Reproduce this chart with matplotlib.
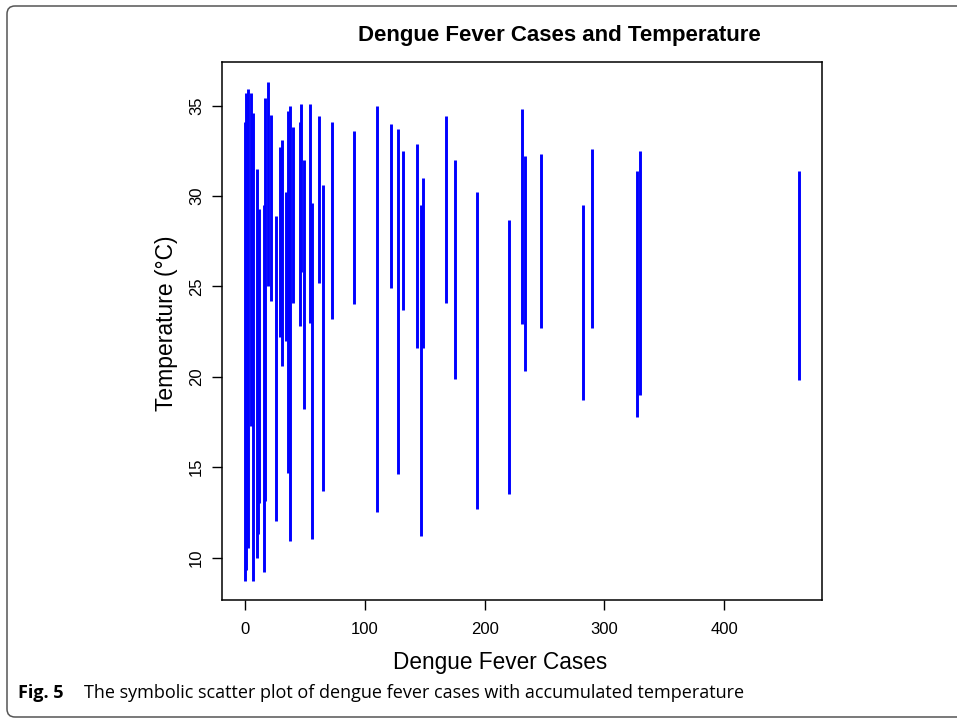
import matplotlib
matplotlib.use("Agg")
import matplotlib.pyplot as plt
from matplotlib.path import Path
from matplotlib.patches import PathPatch
from matplotlib.transforms import IdentityTransform

# interval data: monthly dengue cases with min/max temperature
cases = [0, 1, 3, 5, 7, 10, 11, 12, 16, 17, 19, 22, 26, 29, 31, 34, 36, 38,
         40, 46, 47, 49, 54, 56, 62, 65, 73, 91, 110, 122, 128, 132, 144,
         147, 149, 168, 175, 194, 220, 231, 234, 247, 282, 290, 327, 330, 462]
temp_min = [8.7, 9.3, 10.5, 17.3, 8.7, 10.0, 11.3, 13.0, 9.2, 13.1, 25.0,
            24.2, 12.0, 22.2, 20.6, 22.0, 14.65, 10.9, 24.1, 22.8, 25.8, 18.2,
            23.0, 11.0, 25.2, 13.7, 23.2, 24.0, 12.5, 24.9, 14.6, 23.7, 21.6,
            11.2, 21.6, 24.1, 19.9, 12.7, 13.5, 22.9, 20.3, 22.7, 18.7, 22.7,
            17.8, 19.0, 19.8]
temp_max = [34.1, 35.7, 35.9, 35.7, 34.6, 31.5, 25.5, 29.3, 29.5, 35.4, 36.3,
            34.5, 28.9, 32.7, 33.1, 30.2, 34.7, 35.0, 33.8, 34.1, 35.1, 32.0,
            35.1, 29.6, 34.4, 30.6, 34.1, 33.6, 35.0, 34.0, 33.7, 32.5, 32.9,
            29.5, 31.0, 34.4, 32.0, 30.2, 28.7, 34.8, 32.2, 32.3, 29.5, 32.6,
            31.4, 32.5, 31.4]

x_ticks = [0, 100, 200, 300, 400]
y_ticks = [10, 15, 20, 25, 30, 35]

plt.rcParams["font.family"] = ["Liberation Sans", "DejaVu Sans"]

W, H = 957, 719
fig = plt.figure(figsize=(W / 100, H / 100), dpi=100)

# page frame, open on the right, rounded corners on the left (pixel coords)
def px(x, y):
    return (x, H - y)

verts = [px(960, 6), px(15, 6), px(7, 6), px(7, 14), px(7, 709),
         px(7, 717), px(15, 717), px(960, 717)]
codes = [Path.MOVETO, Path.LINETO, Path.CURVE3, Path.CURVE3, Path.LINETO,
         Path.CURVE3, Path.CURVE3, Path.LINETO]
frame = PathPatch(Path(verts, codes), transform=IdentityTransform(),
                  fill=False, edgecolor="#555555", linewidth=1.1)
fig.patches.append(frame)

ax = fig.add_axes([222 / W, 1 - 600 / H, 600 / W, (600 - 61.7) / H])
ax.vlines(cases, temp_min, temp_max, colors="#0000ff", linewidth=2.1)

ax.set_xlim(-19.1, 481.5)
ax.set_ylim(7.65, 37.43)
ax.set_xticks(x_ticks)
ax.set_yticks(y_ticks)
ax.set_yticklabels([str(v) for v in y_ticks], rotation=90, va="center")
ax.tick_params(direction="out", length=7, width=1, labelsize=12,
               colors="black")
ax.tick_params(axis="x", pad=9)
ax.tick_params(axis="y", pad=6)
for spine in ax.spines.values():
    spine.set_linewidth(1.1)

fig.text(559 / W, 1 - 35 / H, "Dengue Fever Cases and Temperature",
         ha="center", va="center", fontsize=16, fontweight="bold")
fig.text(500 / W, 1 - 662 / H, "Dengue Fever Cases",
         ha="center", va="center", fontsize=16.3)
fig.text(166 / W, 1 - 323 / H, "Temperature (\u00b0C)",
         ha="center", va="center", fontsize=16.5, rotation=90)

# figure caption
cap_font = ["Open Sans", "DejaVu Sans"]
fig.text(18 / W, 1 - 693 / H, "Fig. 5", ha="left", va="center",
         fontsize=13, fontweight="bold", family=cap_font)
fig.text(84 / W, 1 - 693 / H,
         "The symbolic scatter plot of dengue fever cases with accumulated temperature",
         ha="left", va="center", fontsize=13, family=cap_font)

fig.savefig("out.png", dpi=100)
